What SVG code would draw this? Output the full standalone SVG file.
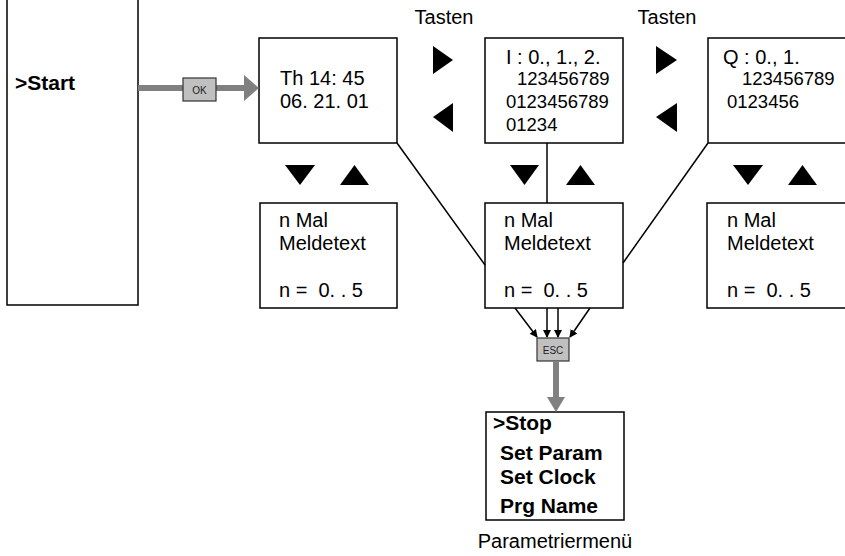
<svg xmlns="http://www.w3.org/2000/svg" width="845" height="556" viewBox="0 0 845 556">
<style>
.box{fill:#fff;stroke:#000;stroke-width:1.5}
.t{font-family:"Liberation Sans",Arial,sans-serif;font-size:20px;fill:#000}
.d{font-family:"Liberation Sans",Arial,sans-serif;font-size:18.5px;fill:#000}
.b{font-family:"Liberation Sans",Arial,sans-serif;font-size:21px;font-weight:bold;fill:#000}
.key{fill:#c0c0c0;stroke:#333;stroke-width:1.2}
.kt{font-family:"Liberation Sans",Arial,sans-serif;font-size:10px;fill:#222;text-anchor:middle}
.tri{fill:#000}
.ln{stroke:#000;stroke-width:1.5;fill:none}
.gray{stroke:#808080;stroke-width:6;fill:none}
.grayhead{fill:#808080}
</style>
<defs>
<marker id="ah" markerWidth="8" markerHeight="8" refX="7" refY="4" orient="auto" markerUnits="userSpaceOnUse">
<path d="M0,0 L8,4 L0,8 Z" fill="#000"/>
</marker>
</defs>
<g id="start">
<rect class="box" x="7" y="-5" width="131" height="310"/>
<text class="b" x="15" y="90">&gt;Start</text>
</g>
<g id="clock">
<rect class="box" x="259" y="38" width="138" height="105"/>
<text class="t" x="280" y="85">Th 14: 45</text>
<text class="t" x="280" y="108">06. 21. 01</text>
</g>
<g id="inputs">
<rect class="box" x="485" y="38" width="138" height="105"/>
<text class="t" x="506" y="64">I : 0., 1., 2.</text>
<text class="d" x="517" y="85">123456789</text>
<text class="d" x="506" y="108">0123456789</text>
<text class="d" x="506" y="131">01234</text>
</g>
<g id="outputs">
<rect class="box" x="708" y="38" width="145" height="105"/>
<text class="t" x="723" y="64">Q : 0., 1.</text>
<text class="d" x="742" y="85">123456789</text>
<text class="d" x="727" y="108">0123456</text>
</g>
<g id="msg1">
<rect class="box" x="260" y="203" width="137" height="105"/>
<text class="t" x="279" y="227">n Mal</text>
<text class="t" x="279" y="250">Meldetext</text>
<text class="t" x="279" y="297" xml:space="preserve">n =  0. . 5</text>
</g>
<g id="msg2">
<rect class="box" x="485" y="203" width="138" height="105"/>
<text class="t" x="504" y="227">n Mal</text>
<text class="t" x="504" y="250">Meldetext</text>
<text class="t" x="504" y="297" xml:space="preserve">n =  0. . 5</text>
</g>
<g id="msg3">
<rect class="box" x="707" y="203" width="146" height="105"/>
<text class="t" x="727" y="227">n Mal</text>
<text class="t" x="727" y="250">Meldetext</text>
<text class="t" x="727" y="297" xml:space="preserve">n =  0. . 5</text>
</g>
<g id="menu">
<rect class="box" x="486" y="412" width="138" height="108"/>
<text class="b" x="493" y="430">&gt;Stop</text>
<text class="b" x="500" y="460">Set Param</text>
<text class="b" x="500" y="484">Set Clock</text>
<text class="b" x="500" y="513">Prg Name</text>
<text class="t" x="555" y="548" text-anchor="middle">Parametriermenü</text>
</g>
<g id="keys">
<text class="t" x="444" y="24" text-anchor="middle">Tasten</text>
<text class="t" x="667" y="24" text-anchor="middle">Tasten</text>
<polygon class="tri" points="433,46 453,60 433,74"/>
<polygon class="tri" points="453,103 433,117 453,132"/>
<polygon class="tri" points="656,46 677,60 656,74"/>
<polygon class="tri" points="677,103 656,117 677,132"/>
<polygon class="tri" points="285,165 315,165 300,185"/>
<polygon class="tri" points="340,185 369,185 354.5,165"/>
<polygon class="tri" points="510,165 539,165 524.5,185"/>
<polygon class="tri" points="566,185 595,185 580.5,165"/>
<polygon class="tri" points="733,165 763,165 748,185"/>
<polygon class="tri" points="788,185 817,185 802.5,165"/>
</g>
<g id="connectors">
<line class="gray" x1="138" y1="88" x2="246" y2="88"/>
<polygon class="grayhead" points="244,75 259,88 244,101"/>
<rect class="key" x="183" y="78" width="33" height="23"/>
<text class="kt" x="199.5" y="93.5">OK</text>
<line class="ln" x1="397" y1="143" x2="485" y2="265"/>
<line class="ln" x1="547" y1="143" x2="547" y2="203"/>
<line class="ln" x1="708" y1="143" x2="623" y2="263"/>
<line class="ln" x1="515" y1="308" x2="537" y2="337" marker-end="url(#ah)"/>
<line class="ln" x1="547" y1="308" x2="547" y2="337" marker-end="url(#ah)"/>
<line class="ln" x1="558" y1="308" x2="558" y2="337" marker-end="url(#ah)"/>
<line class="ln" x1="590" y1="308" x2="570" y2="337" marker-end="url(#ah)"/>
<rect class="key" x="537" y="338" width="32" height="23"/>
<text class="kt" x="553" y="353.5">ESC</text>
<line class="gray" x1="556" y1="361" x2="556" y2="399"/>
<polygon class="grayhead" points="547,397 565,397 556,412"/>
</g>
</svg>
